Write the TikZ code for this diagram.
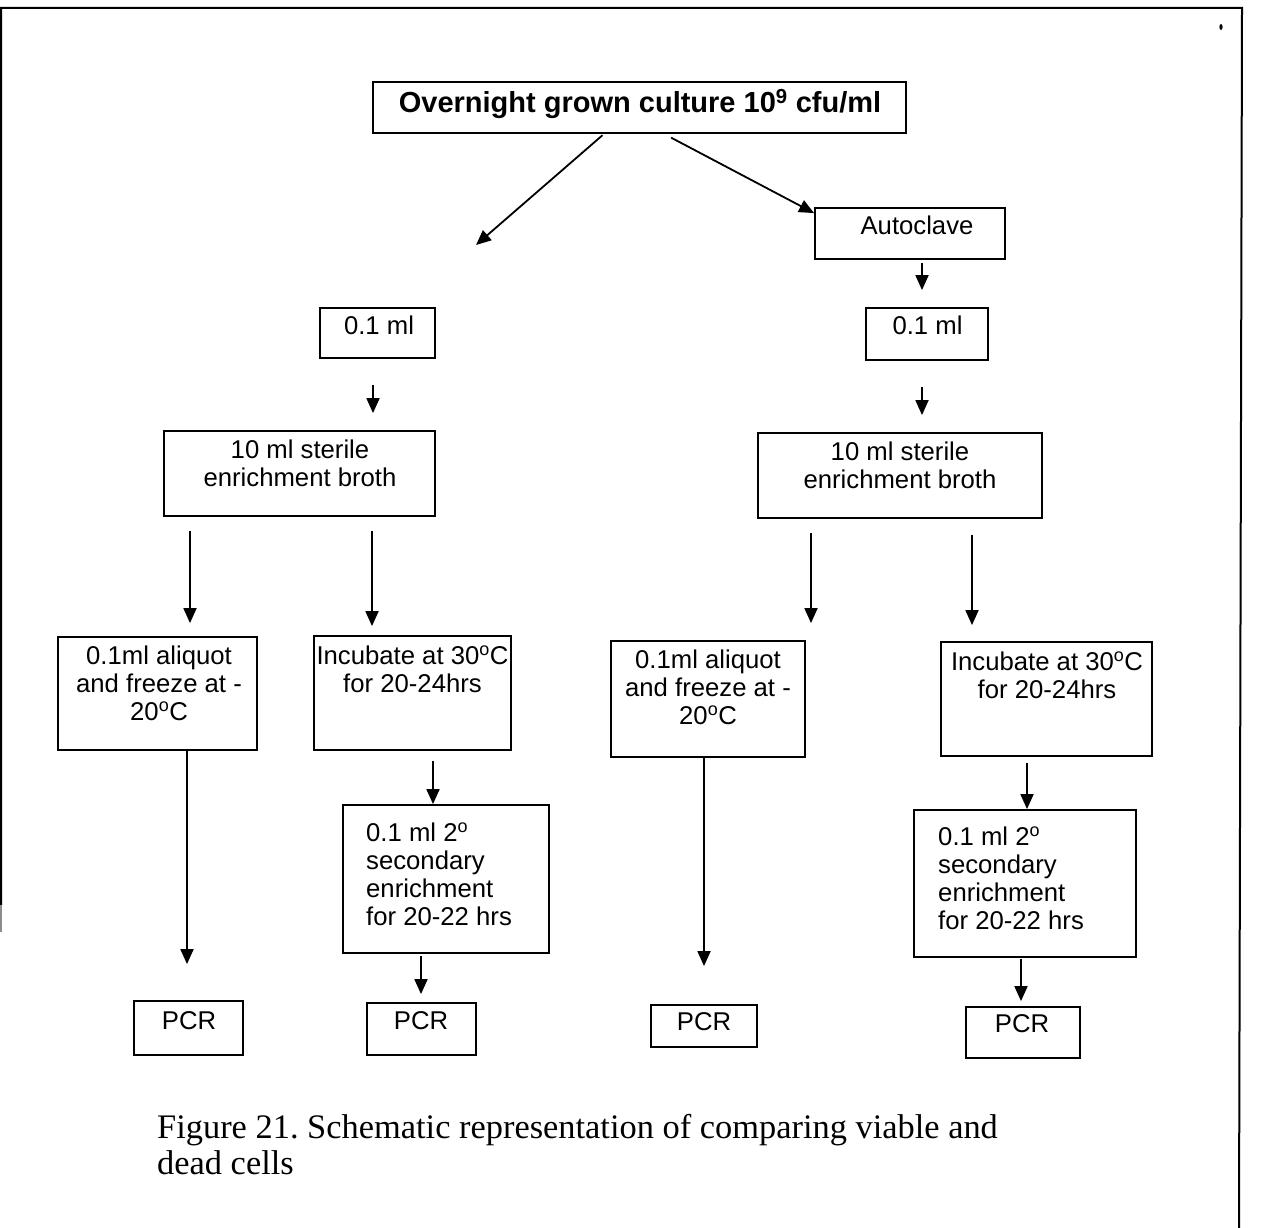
\documentclass[tikz,border=0pt]{standalone}
\usepackage{fontspec}
\setmainfont{Liberation Serif}
\newfontfamily\arialf{Liberation Sans}
\usetikzlibrary{arrows.meta}
\begin{document}
\begin{tikzpicture}[x=1pt,y=-1pt,
  box/.style={draw, line width=1.8pt, rectangle, inner sep=0pt},
  txt/.style={font=\arialf\fontsize{25.7}{28}\selectfont, inner sep=0pt, anchor=north, align=center},
  ltxt/.style={font=\arialf\fontsize{25.7}{28}\selectfont, inner sep=0pt, anchor=north west, align=left},
  arr/.style={draw, line width=1.8pt, -{Triangle[length=15pt,width=13pt]}},
  frame/.style={line width=2pt}
]
\useasboundingbox (0,0) rectangle (1266,1228);

% page frame
\draw[frame] (1,905) -- (1,8) -- (1242,8) -- (1239,1228);
\draw[line width=2pt, black!45] (1,905) -- (1,932);
\fill (1221,27) ellipse (1.6pt and 3pt);

% boxes
\node[box, minimum width=533, minimum height=51] (top) at (639.5,107.5) {};
\node[box, minimum width=190, minimum height=51] (auto) at (910,233.5) {};
\node[box, minimum width=115, minimum height=50] (m01L) at (377.5,333) {};
\node[box, minimum width=122, minimum height=52] (m01R) at (927,334) {};
\node[box, minimum width=271, minimum height=85] (b10L) at (299.5,473.5) {};
\node[box, minimum width=284, minimum height=85] (b10R) at (900,475.5) {};
\node[box, minimum width=199, minimum height=113] (aliqL) at (157.5,693.5) {};
\node[box, minimum width=197, minimum height=114] (incL) at (412.5,693) {};
\node[box, minimum width=194, minimum height=116] (aliqR) at (708,699) {};
\node[box, minimum width=211, minimum height=114] (incR) at (1046.5,699) {};
\node[box, minimum width=206, minimum height=148] (secL) at (446,879) {};
\node[box, minimum width=222, minimum height=147] (secR) at (1025,883.5) {};
\node[box, minimum width=109, minimum height=54] (pcr1) at (188.5,1028) {};
\node[box, minimum width=109, minimum height=52] (pcr2) at (421.5,1029) {};
\node[box, minimum width=106, minimum height=42] (pcr3) at (704,1026) {};
\node[box, minimum width=114, minimum height=51] (pcr4) at (1023,1032.5) {};

% box texts
\node[inner sep=0pt, anchor=base, font=\arialf\bfseries\fontsize{29}{32}\selectfont] (topT) at (640,113) {Overnight grown culture 10\textsuperscript{9} cfu/ml};
\node[txt] (autoT) at (917,214.4) {\strut Autoclave};
\node[txt] (m01LT) at (379,314.4) {\strut 0.1 ml};
\node[txt] (m01RT) at (927.5,314.4) {\strut 0.1 ml};
\node[txt] (b10LT) at (300,438.4) {\strut 10 ml sterile\\enrichment broth};
\node[txt] (b10RT) at (900,440.4) {\strut 10 ml sterile\\enrichment broth};
\node[txt] (aliqLT) at (159,644.4) {\strut 0.1ml aliquot\\and freeze at -\\20\textsuperscript{o}C};
\node[txt] (incLT) at (412.5,644.4) {\strut Incubate at 30\textsuperscript{o}C\\for 20-24hrs};
\node[txt] (aliqRT) at (708,648.4) {\strut 0.1ml aliquot\\and freeze at -\\20\textsuperscript{o}C};
\node[txt] (incRT) at (1047,650.4) {\strut Incubate at 30\textsuperscript{o}C\\for 20-24hrs};
\node[ltxt] (secLT) at (366,821.4) {\strut 0.1 ml 2\textsuperscript{o}\\secondary\\enrichment\\for 20-22 hrs};
\node[ltxt] (secRT) at (938,825.4) {\strut 0.1 ml 2\textsuperscript{o}\\secondary\\enrichment\\for 20-22 hrs};
\node[txt] (pcr1T) at (189,1009.4) {\strut PCR};
\node[txt] (pcr2T) at (421,1009.4) {\strut PCR};
\node[txt] (pcr3T) at (704,1010.4) {\strut PCR};
\node[txt] (pcr4T) at (1022,1012.4) {\strut PCR};

% connectors
\coordinate (splitL) at (476,245);
\draw[arr, shorten <=2pt] ([xshift=-35.5pt]top.south) -- (splitL);
\draw[arr, shorten <=8pt] ([xshift=24.5pt]top.south) -- ([yshift=-6pt]auto.north west);
\draw[arr, shorten <=3pt, shorten >=17pt] ([xshift=12pt]auto.south) -- ([xshift=-5pt]m01R.north);
\draw[arr, shorten <=26pt, shorten >=17pt] ([xshift=-4.5pt]m01L.south) -- ([xshift=73.5pt]b10L.north);
\draw[arr, shorten <=26pt, shorten >=17pt] ([xshift=-5pt]m01R.south) -- ([xshift=22pt]b10R.north);
\draw[arr, shorten <=14pt, shorten >=13pt] ([xshift=-109.5pt]b10L.south) -- ([xshift=32.5pt]aliqL.north);
\draw[arr, shorten <=14pt, shorten >=9pt] ([xshift=72.5pt]b10L.south) -- ([xshift=-40.5pt]incL.north);
\draw[arr, shorten <=14pt, shorten >=17pt] ([xshift=-89pt]b10R.south) -- ([xshift=103pt]aliqR.north);
\draw[arr, shorten <=16pt, shorten >=16pt] ([xshift=72pt]b10R.south) -- ([xshift=-74.5pt]incR.north);
\draw[arr, shorten >=36pt] ([xshift=29.5pt]aliqL.south) -- ([xshift=-1.5pt]pcr1.north);
\draw[arr, shorten <=10pt] ([xshift=20.5pt]incL.south) -- ([xshift=-13pt]secL.north);
\draw[arr, shorten <=2pt, shorten >=8pt] ([xshift=-25pt]secL.south) -- ([xshift=-0.5pt]pcr2.north);
\draw[arr, shorten >=38pt] ([xshift=-4pt]aliqR.south) -- (pcr3.north);
\draw[arr, shorten <=6pt] ([xshift=-19.5pt]incR.south) -- ([xshift=2pt]secR.north);
\draw[arr, shorten <=1pt, shorten >=5pt] ([xshift=-4pt]secR.south) -- ([xshift=-2pt]pcr4.north);

% caption
\node[inner sep=0pt, anchor=north west, align=left, font=\fontsize{34.4}{36}\selectfont] (caption) at (157,1112.8)
  {\strut Figure 21.\ Schematic representation of comparing viable and\\dead cells};
\end{tikzpicture}
\end{document}
